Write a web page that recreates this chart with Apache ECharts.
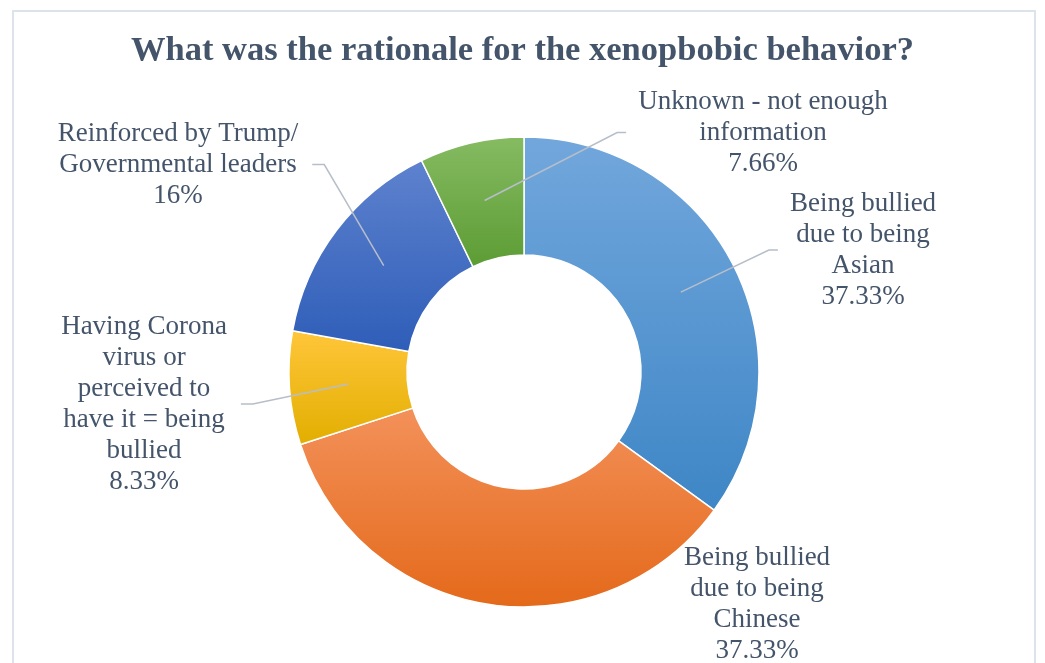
<!DOCTYPE html>
<html>
<head>
<meta charset="utf-8">
<script src="https://cdn.jsdelivr.net/npm/echarts@6/dist/echarts.min.js"></script>
<style>
  html, body { margin: 0; padding: 0; background: #ffffff; }
  #chart { width: 1045px; height: 663px; }
</style>
</head>
<body>
<div id="chart"></div>
<script>
// Reasons given, clockwise from 12 o'clock
const categories = [
  'Being bullied\ndue to being\nAsian',
  'Being bullied\ndue to being\nChinese',
  'Having Corona\nvirus or\nperceived to\nhave it = being\nbullied',
  'Reinforced by Trump/\nGovernmental leaders',
  'Unknown - not enough\ninformation'
];
const shares = [37.33, 37.33, 8.33, 16, 7.66];
const chartTitle = 'What was the rationale for the xenopbobic behavior?';

// Slice fills: top and bottom of each vertical gradient
const sliceColors = [
  ['#72A7DC', '#3E86C6'],
  ['#F3915A', '#E4691A'],
  ['#FFC63A', '#E2AE00'],
  ['#5E82CE', '#2E5DB8'],
  ['#86BB62', '#5C9C34']
];

// Where each label block sits: horizontal centre and top edge
const labelSpots = [
  [863, 188],
  [757, 542],
  [144, 311],
  [178, 118],
  [763, 86]
];
const hideLeader = [false, true, false, false, false];

const center = [524, 372];
const textColor = '#44546A';
const serif = '"Liberation Serif", "Times New Roman", serif';

const chart = echarts.init(document.getElementById('chart'), null, { renderer: 'canvas' });

const ringData = categories.map((name, i) => ({
  name: name,
  value: shares[i],
  itemStyle: {
    color: new echarts.graphic.LinearGradient(0, 0, 0, 1, [
      { offset: 0, color: sliceColors[i][0] },
      { offset: 1, color: sliceColors[i][1] }
    ])
  }
}));

const labelData = categories.map((name, i) => ({
  name: name,
  value: shares[i],
  labelLine: { show: !hideLeader[i] }
}));

function placeLabel(params) {
  const i = params.dataIndex;
  const cx = labelSpots[i][0];
  const top = labelSpots[i][1];
  const w = params.labelRect.width;
  const h = params.labelRect.height;
  const out = { x: cx, y: top, align: 'center', verticalAlign: 'top', hideOverlap: false };
  const pts = params.labelLinePoints;
  if (pts && !hideLeader[i]) {
    const midY = top + h / 2;
    const rightSide = cx > center[0];
    const endX = rightSide ? cx - w / 2 - 12 : cx + w / 2 + 14;
    const bendX = rightSide ? endX - 9 : endX + 12;
    out.labelLinePoints = [pts[0], [bendX, midY], [endX, midY]];
  }
  return out;
}

chart.setOption({
  animation: false,
  backgroundColor: '#ffffff',
  title: {
    text: chartTitle,
    left: 'center',
    top: 29,
    textStyle: {
      fontFamily: serif,
      fontWeight: 'bold',
      fontSize: 34.5,
      color: textColor
    }
  },
  graphic: [{
    type: 'rect',
    silent: true,
    z: -1,
    shape: { x: 13, y: 11, width: 1022, height: 700 },
    style: { fill: 'none', stroke: '#DDE3EA', lineWidth: 2 }
  }],
  series: [
    {
      // the coloured ring
      type: 'pie',
      z: 2,
      center: center,
      radius: [117, 235],
      startAngle: 90,
      clockwise: true,
      silent: true,
      avoidLabelOverlap: false,
      label: { show: false },
      labelLine: { show: false },
      itemStyle: { borderColor: '#ffffff', borderWidth: 1.5 },
      data: ringData
    },
    {
      // invisible disc out to mid-ring: its leader lines start inside each slice
      type: 'pie',
      z: 4,
      center: center,
      radius: [0, 176],
      startAngle: 90,
      clockwise: true,
      silent: true,
      avoidLabelOverlap: false,
      itemStyle: { color: 'rgba(0,0,0,0)', borderWidth: 0 },
      label: {
        show: true,
        position: 'outside',
        formatter: p => p.name + '\n' + p.value + '%',
        fontFamily: serif,
        fontSize: 27,
        lineHeight: 31,
        color: textColor,
        align: 'center'
      },
      labelLine: {
        show: true,
        length: 10,
        length2: 10,
        lineStyle: { color: '#B6BECA', width: 1.5 }
      },
      labelLayout: placeLabel,
      data: labelData
    }
  ]
});
</script>
</body>
</html>
